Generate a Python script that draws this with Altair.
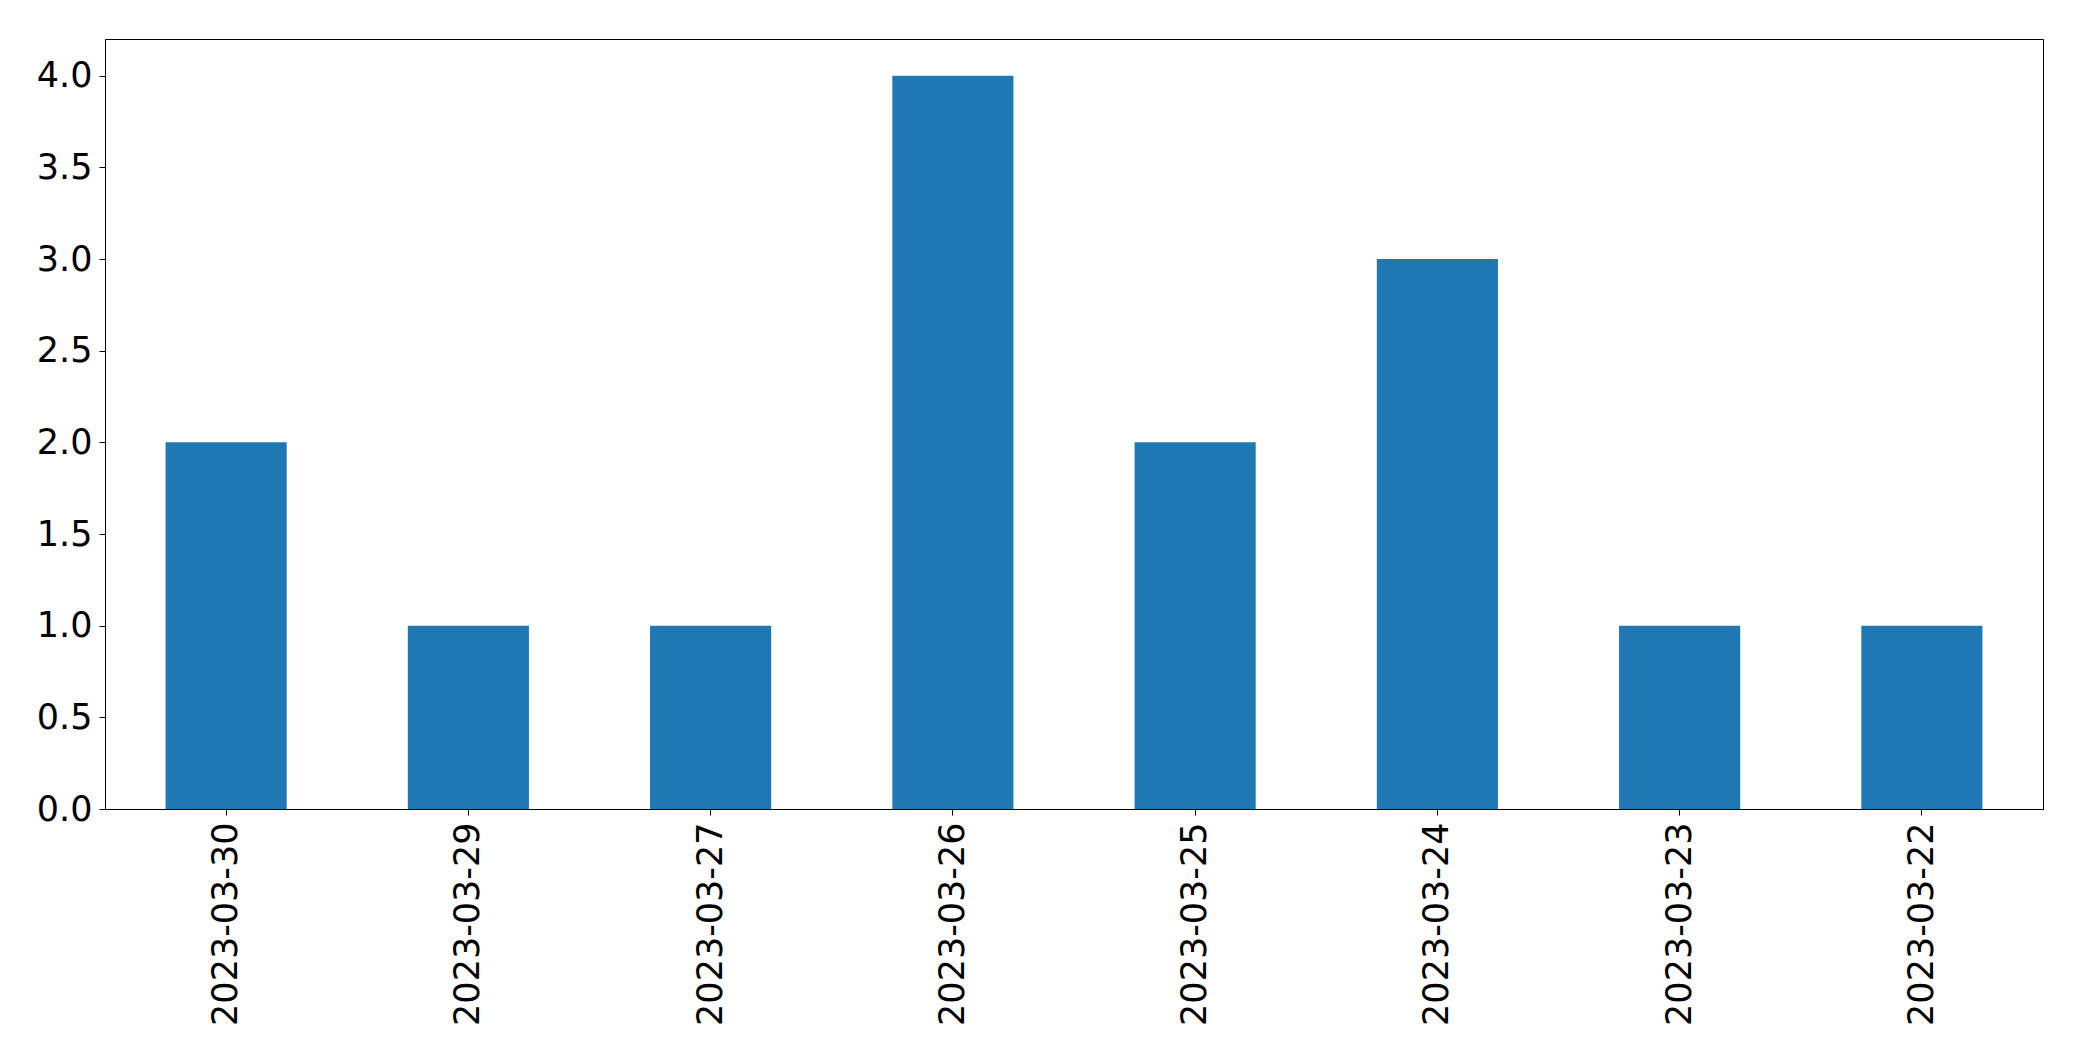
import altair as alt
import pandas as pd

dates = ["2023-03-30", "2023-03-29", "2023-03-27", "2023-03-26",
         "2023-03-25", "2023-03-24", "2023-03-23", "2023-03-22"]
counts = [2, 1, 1, 4, 2, 3, 1, 1]
y_ticks = [0.0, 0.5, 1.0, 1.5, 2.0, 2.5, 3.0, 3.5, 4.0]

df = pd.DataFrame({"date": dates, "count": counts})

FONT = "DejaVu Sans"
FS = 35

chart = alt.Chart(df).mark_bar(color="#1f77b4").encode(
    x=alt.X("date:N", sort=dates, title=None,
            scale=alt.Scale(paddingInner=0.5, paddingOuter=0.25),
            axis=alt.Axis(labelAngle=270, labelAlign="right", labelBaseline="middle",
                          labelFont=FONT, labelFontSize=FS, labelColor="black",
                          labelLimit=0, labelPadding=7,
                          tickColor="black", tickSize=6, tickWidth=1,
                          domainColor="black", domainWidth=1, grid=False)),
    y=alt.Y("count:Q", title=None,
            scale=alt.Scale(domain=[0, 4.2], nice=False, zero=True),
            axis=alt.Axis(values=y_ticks, format=".1f",
                          labelFont=FONT, labelFontSize=FS, labelColor="black",
                          labelLimit=0, labelPadding=7,
                          tickColor="black", tickSize=6, tickWidth=1,
                          domainColor="black", domainWidth=1, grid=False)),
).properties(
    width=1938,
    height=770,
    background="white",
    autosize=alt.AutoSizeParams(type="none"),
    padding={"left": 97, "top": 31, "right": 20, "bottom": 230},
).configure_view(
    stroke="black", strokeWidth=1
)

chart.save("out.html", embed_options={"renderer": "svg", "actions": False})
